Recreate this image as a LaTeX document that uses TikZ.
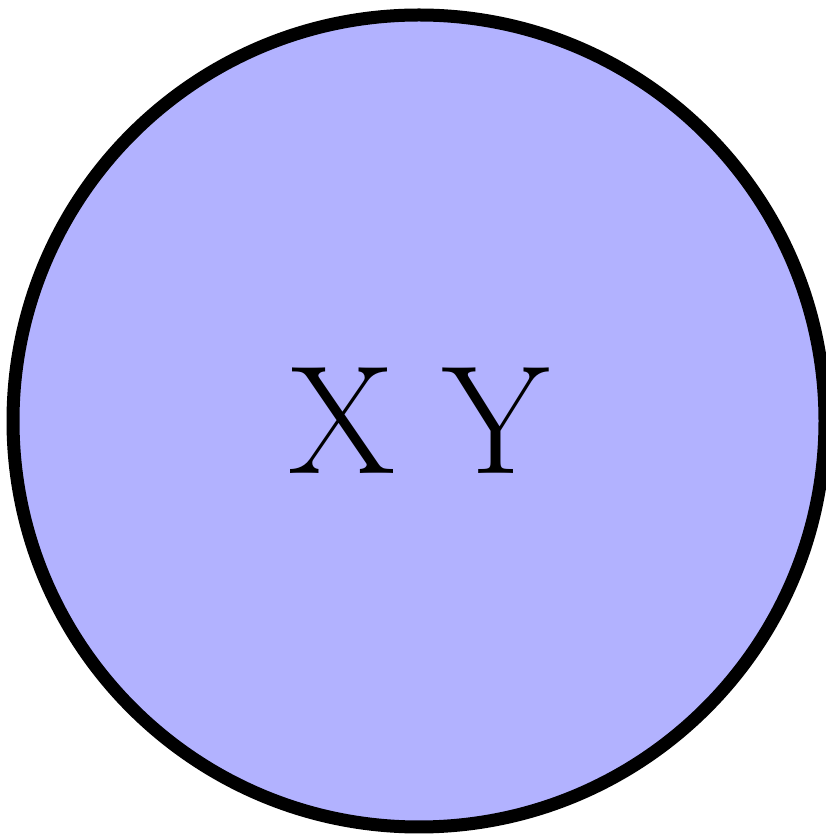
\documentclass[tikz,border=0pt]{standalone}
\begin{document}
\begin{tikzpicture}
\tikzset{bigcircle/.style={circle, draw=black, line width=0.13cm, fill=blue!30, minimum size=8.12cm, inner sep=0pt, font=\fontsize{44}{50}\selectfont}}
\useasboundingbox (0,0) rectangle (8.26,8.34);
\node[bigcircle] (c) at (4.19,4.13) {X Y};
\end{tikzpicture}
\end{document}
